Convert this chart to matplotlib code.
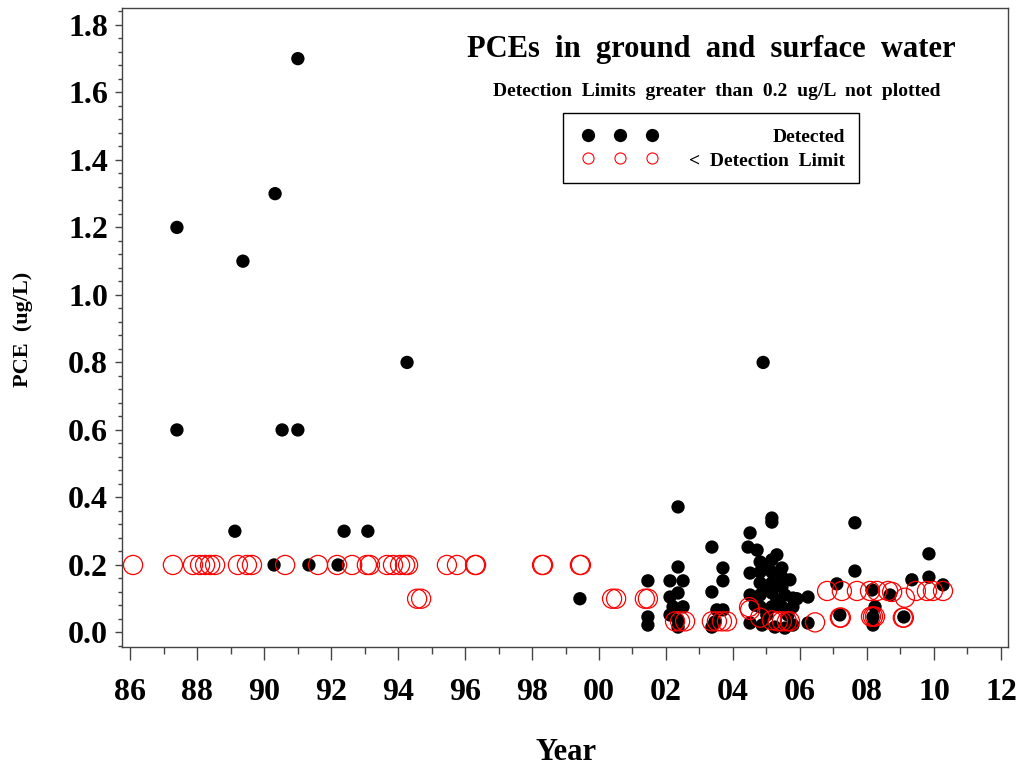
import numpy as np
import matplotlib
matplotlib.use("Agg")
import matplotlib.pyplot as plt
from matplotlib.ticker import MultipleLocator, FuncFormatter
from matplotlib.patches import Rectangle

plt.rcParams["font.family"] = ["Liberation Serif", "DejaVu Serif"]
plt.rcParams["font.weight"] = "bold"

# --------------------------------------------------------------------------- #
# Data (decimal year, ug/L)
# --------------------------------------------------------------------------- #
det_year = [
    1987.40, 1987.40, 1989.37, 1990.33, 1991.01, 1990.54, 1991.01, 1994.27,
    1989.13, 1990.30, 1991.34, 1992.21, 1992.39, 1993.10, 1999.43, 2004.90,
    # 2001-2003
    2001.46, 2001.46, 2001.46, 2002.36, 2002.36, 2002.12, 2002.51, 2002.36,
    2002.12, 2002.21, 2002.51, 2002.12, 2002.36, 2002.36,
    2003.37, 2003.70, 2003.70, 2003.37, 2003.52, 2003.70, 2003.37, 2003.46,
    # 2004-2006
    2005.16, 2005.16, 2004.51, 2004.45, 2004.72, 2004.81, 2005.16, 2004.51,
    2004.81, 2005.16, 2005.46, 2005.46, 2004.81, 2005.16, 2005.46, 2004.51,
    2004.81, 2005.16, 2005.55, 2005.79, 2006.24, 2004.81, 2005.16, 2005.46,
    2005.79, 2004.51, 2004.87, 2005.25, 2005.55, 2005.79, 2006.24,
    2004.96, 2005.31, 2005.01, 2005.64, 2004.66, 2005.91, 2005.70, 2004.96,
    2005.31,
    # 2006-2010
    2007.64, 2007.64, 2007.10, 2007.19, 2008.15, 2008.24, 2008.18, 2008.18,
    2008.69, 2009.34, 2009.85, 2009.85, 2010.27, 2009.10,
]
det_pce = [
    1.20, 0.60, 1.10, 1.30, 1.70, 0.60, 0.60, 0.80,
    0.30, 0.20, 0.20, 0.20, 0.30, 0.30, 0.10, 0.80,
    0.153, 0.046, 0.022, 0.372, 0.194, 0.153, 0.153, 0.117,
    0.105, 0.076, 0.076, 0.052, 0.037, 0.016,
    0.253, 0.191, 0.153, 0.120, 0.067, 0.067, 0.016, 0.031,
    0.339, 0.327, 0.295, 0.253, 0.244, 0.209, 0.215, 0.176,
    0.179, 0.179, 0.191, 0.164, 0.147, 0.147, 0.135, 0.111,
    0.111, 0.117, 0.111, 0.102, 0.105, 0.076, 0.076, 0.076,
    0.076, 0.028, 0.022, 0.016, 0.013, 0.022, 0.028,
    0.127, 0.096, 0.052, 0.052, 0.081, 0.100, 0.156, 0.200,
    0.230,
    0.325, 0.182, 0.144, 0.052, 0.126, 0.076, 0.046, 0.022,
    0.111, 0.156, 0.233, 0.164, 0.141, 0.046,
]

ndl_year = [
    1986.09, 1987.28, 1987.88, 1988.09, 1988.24, 1988.39, 1988.54, 1989.22,
    1989.49, 1989.64, 1990.63, 1991.61, 1992.18, 1992.63, 1993.07, 1993.16,
    1993.67, 1993.85, 1994.06, 1994.21, 1994.30, 1995.46, 1995.76, 1996.30,
    1996.33, 1998.30, 1998.33, 1999.43, 1999.46,
    1994.57, 1994.69, 2000.39, 2000.51, 2001.37, 2001.46,
    2002.27, 2002.42, 2002.57, 2003.37, 2003.52, 2003.67, 2003.82,
    2004.51, 2004.48, 2004.81, 2005.16, 2005.34, 2005.46, 2005.61, 2005.70,
    2006.45, 2007.19, 2007.22, 2008.12, 2008.18, 2008.24, 2009.07, 2009.10,
    2006.81, 2007.25, 2007.70, 2008.09, 2008.30, 2008.63, 2008.75, 2009.13,
    2009.46, 2009.79, 2009.97, 2010.27,
]
ndl_pce = [
    0.20, 0.20, 0.20, 0.20, 0.20, 0.20, 0.20, 0.20,
    0.20, 0.20, 0.20, 0.20, 0.20, 0.20, 0.20, 0.20,
    0.20, 0.20, 0.20, 0.20, 0.20, 0.20, 0.20, 0.20,
    0.20, 0.20, 0.20, 0.20, 0.20,
    0.10, 0.10, 0.10, 0.10, 0.10, 0.10,
    0.033, 0.033, 0.033, 0.033, 0.033, 0.033, 0.033,
    0.067, 0.075, 0.044, 0.036, 0.033, 0.033, 0.033, 0.033,
    0.030, 0.044, 0.044, 0.047, 0.047, 0.047, 0.044, 0.044,
    0.123, 0.123, 0.123, 0.123, 0.123, 0.123, 0.120, 0.103,
    0.123, 0.123, 0.123, 0.123,
]

title = "PCEs  in  ground  and  surface  water"
subtitle = "Detection  Limits  greater  than  0.2  ug/L  not  plotted"
legend_labels = ["Detected", "<  Detection  Limit"]

# --------------------------------------------------------------------------- #
fig = plt.figure(figsize=(10.18, 7.70), dpi=100)
ax = fig.add_axes([122 / 1018, 1 - 647 / 770, 886 / 1018, 639 / 770])

ax.scatter(det_year, det_pce, s=92, c="black", edgecolors="none", zorder=2)
ax.scatter(ndl_year, ndl_pce, s=190, facecolors="none", edgecolors="red",
           linewidths=0.9, zorder=3)

ax.set_xlim(1985.76, 2012.21)
ax.set_ylim(-0.043, 1.85)
ax.xaxis.set_major_locator(MultipleLocator(2))
ax.xaxis.set_minor_locator(MultipleLocator(1))
ax.xaxis.set_major_formatter(FuncFormatter(lambda v, p: f"{int(round(v)) % 100:02d}"))
ax.yaxis.set_major_locator(MultipleLocator(0.2))
ax.yaxis.set_minor_locator(MultipleLocator(0.04))
ax.yaxis.set_major_formatter(FuncFormatter(lambda v, p: f"{v:.1f}"))

for sp in ax.spines.values():
    sp.set_color("#444444")
    sp.set_linewidth(1.0)
ax.tick_params(axis="x", which="major", length=9, width=1, color="#444444",
               labelsize=23, pad=13)
ax.tick_params(axis="x", which="minor", length=5, width=1, color="#444444")
ax.tick_params(axis="y", which="major", length=5, width=1, color="#444444",
               labelsize=23, pad=5)
ax.tick_params(axis="y", which="minor", length=3, width=1, color="#444444")

fig.text(566 / 1018, 1 - 752 / 770, "Year", fontsize=22, ha="center", va="center")
fig.text(23 / 1018, 1 - 329 / 770, "PCE  (ug/L)", fontsize=16, rotation=90,
         ha="center", va="center")

fig.text(711 / 1018, 1 - 49 / 770, title, fontsize=22, ha="center", va="center")
fig.text(717 / 1018, 1 - 92 / 770, subtitle, fontsize=14, ha="center", va="center")

# legend box
fig.patches.append(Rectangle((563 / 1018, 1 - 183 / 770), 296 / 1018, 70 / 770,
                             transform=fig.transFigure, facecolor="white",
                             edgecolor="black", linewidth=1.0, zorder=5))
mx = [588 / 1018, 620 / 1018, 652 / 1018]
fig.lines.append(plt.Line2D(mx, [1 - 135 / 770] * 3, transform=fig.transFigure,
                            ls="none", marker="o", ms=8.5, mfc="black", mec="black",
                            zorder=6))
fig.lines.append(plt.Line2D(mx, [1 - 158 / 770] * 3, transform=fig.transFigure,
                            ls="none", marker="o", ms=8, mfc="none", mec="red",
                            mew=0.8, zorder=6))
fig.text(845 / 1018, 1 - 138 / 770, legend_labels[0], fontsize=14, ha="right",
         va="center", zorder=7)
fig.text(845 / 1018, 1 - 161 / 770, legend_labels[1], fontsize=14, ha="right",
         va="center", zorder=7)

fig.savefig("out.png", dpi=100)
